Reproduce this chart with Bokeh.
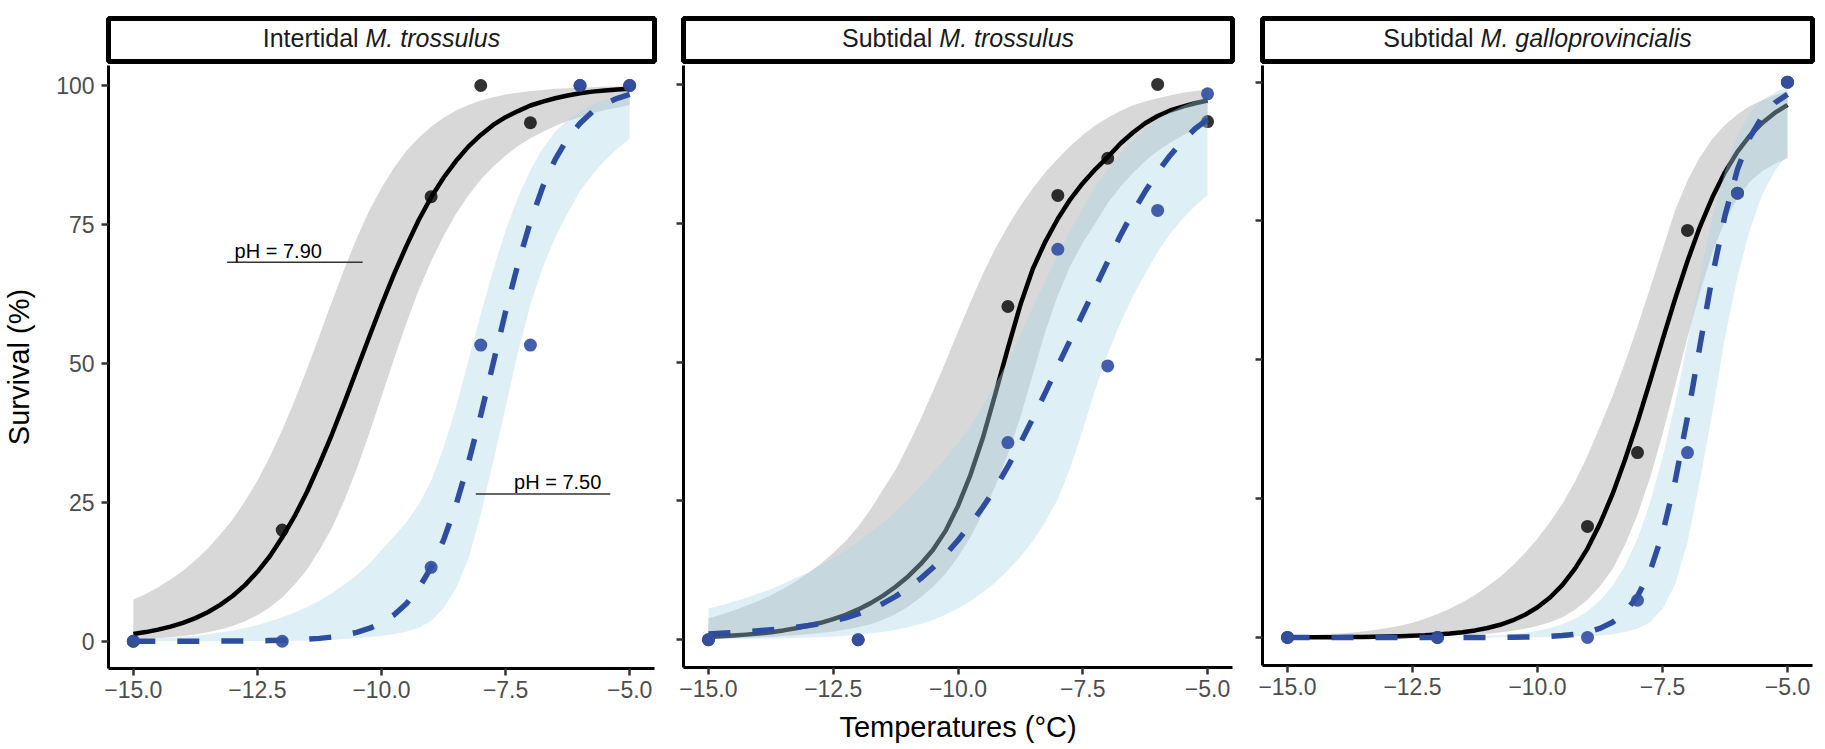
from bokeh.plotting import figure
from bokeh.layouts import row, column
from bokeh.models import Range1d, FixedTicker
from bokeh.embed import file_html
from bokeh.resources import INLINE
from bokeh.core.properties import value

# ---------------- data ----------------
temp_grid = [-15.0, -14.75, -14.5, -14.25, -14.0, -13.75, -13.5, -13.25, -13.0, -12.75,
             -12.5, -12.25, -12.0, -11.75, -11.5, -11.25, -11.0, -10.75, -10.5, -10.25,
             -10.0, -9.75, -9.5, -9.25, -9.0, -8.75, -8.5, -8.25, -8.0, -7.75,
             -7.5, -7.25, -7.0, -6.75, -6.5, -6.25, -6.0, -5.75, -5.5, -5.25, -5.0]
obs_temps = [-15, -12, -9, -8, -7, -6, -5]

x_ticks = [-15.0, -12.5, -10.0, -7.5, -5.0]
x_tick_labels = ["−15.0", "−12.5", "−10.0", "−7.5", "−5.0"]
y_ticks = [0, 25, 50, 75, 100]
y_tick_labels = ["0", "25", "50", "75", "100"]

panel_habitat = ["Intertidal", "Subtidal", "Subtidal"]
panel_species = ["M. trossulus", "M. trossulus", "M. galloprovincialis"]

# Panel 1: Intertidal M. trossulus (pH 7.90 = black/grey, pH 7.50 = blue)
p1_fit_790 = [1.31, 1.65, 2.09, 2.63, 3.32, 4.17, 5.22, 6.54, 8.15, 10.1, 12.5, 15.3, 18.7, 22.5, 26.9, 31.9, 37.2, 42.9, 48.8, 54.7,
              60.5, 66.0, 71.1, 75.8, 79.9, 83.4, 86.4, 89.0, 91.1, 92.9, 94.3, 95.4, 96.4, 97.1, 97.7, 98.2, 98.6, 98.9, 99.1, 99.3, 99.4]
p1_hi_790 = [7.5, 8.5, 9.7, 11.1, 12.7, 14.6, 16.7, 19.2, 21.9, 25.2, 28.9, 33.2, 38.0, 43.3, 49.0, 55.0, 61.1, 67.0, 72.5, 77.4,
             81.6, 85.2, 88.2, 90.6, 92.6, 94.2, 95.5, 96.5, 97.3, 97.9, 98.4, 98.7, 99.0, 99.2, 99.4, 99.5, 99.6, 99.7, 99.8, 99.8, 99.9]
p1_lo_790 = [0.32, 0.42, 0.54, 0.72, 0.94, 1.24, 1.61, 2.12, 2.76, 3.62, 4.70, 6.12, 7.87, 10.2, 12.9, 16.4, 20.4, 25.3, 31.0, 37.3,
             44.0, 50.7, 57.2, 63.2, 68.4, 72.9, 76.9, 80.2, 83.1, 85.4, 87.4, 89.1, 90.5, 91.7, 92.7, 93.6, 94.3, 95.0, 95.6, 96.0, 96.5]
p1_fit_750 = [0.0, 0.0, 0.0, 0.01, 0.01, 0.01, 0.02, 0.03, 0.04, 0.06, 0.08, 0.12, 0.17, 0.25, 0.36, 0.52, 0.76, 1.10, 1.59, 2.30,
              3.31, 4.74, 6.75, 9.53, 13.3, 18.2, 24.5, 32.1, 40.7, 50.0, 59.3, 67.9, 75.5, 81.8, 86.7, 90.5, 93.2, 95.3, 96.7, 97.7, 98.4]
p1_hi_750 = [0.30, 0.39, 0.50, 0.63, 0.80, 1.00, 1.26, 1.57, 1.94, 2.39, 2.93, 3.56, 4.31, 5.17, 6.18, 7.31, 8.63, 10.2, 11.9, 13.9,
             16.4, 18.8, 21.4, 24.6, 28.9, 34.8, 42.1, 50.5, 58.9, 66.8, 73.9, 79.9, 84.8, 88.7, 91.7, 93.8, 95.4, 96.5, 97.4, 98.1, 98.6]
p1_lo_750 = [0.0, 0.0, 0.0, 0.0, 0.0, 0.0, 0.01, 0.01, 0.02, 0.03, 0.04, 0.06, 0.08, 0.11, 0.15, 0.21, 0.29, 0.40, 0.55, 0.74,
             1.0, 1.3, 1.7, 2.41, 3.63, 5.95, 9.5, 14.8, 22.8, 32.3, 42.1, 52.0, 60.6, 67.3, 72.7, 77.0, 81.0, 84.0, 86.5, 88.6, 90.4]
p1_obs_790 = [0, 20, 80, 100, 93.3, 100, 100]
p1_obs_750 = [0, 0, 13.3, 53.3, 53.3, 100, 100]

# Panel 2: Subtidal M. trossulus
p2_fit_790 = [0.50, 0.62, 0.75, 0.92, 1.12, 1.36, 1.68, 2.06, 2.53, 3.05, 3.70, 4.47, 5.46, 6.59, 7.94, 9.54, 11.4, 13.6, 16.2, 19.6,
              24.1, 29.7, 36.4, 44.3, 52.5, 60.3, 66.8, 71.7, 75.8, 79.3, 82.2, 84.7, 86.9, 89.3, 91.3, 93.0, 94.3, 95.3, 96.0, 96.6, 97.1]
p2_hi_790 = [3.88, 4.52, 5.27, 6.07, 6.98, 8.02, 9.20, 10.5, 12.0, 13.7, 15.6, 17.8, 20.4, 23.5, 27.1, 30.6, 35.0, 39.7, 44.8, 50.0,
             55.5, 60.8, 65.9, 70.5, 74.5, 78.1, 81.3, 84.2, 86.6, 88.9, 90.9, 92.6, 94.0, 95.2, 96.2, 96.9, 97.5, 98.0, 98.5, 98.8, 99.1]
p2_lo_790 = [0.20, 0.25, 0.30, 0.37, 0.45, 0.55, 0.67, 0.82, 1.00, 1.21, 1.49, 1.83, 2.25, 2.79, 3.62, 4.65, 5.95, 7.59, 9.54, 11.9,
             14.9, 18.5, 22.8, 27.7, 33.4, 40.1, 47.8, 55.5, 62.0, 67.3, 71.5, 75.0, 78.6, 81.5, 84.0, 86.2, 88.0, 89.5, 90.8, 91.9, 92.9]
p2_fit_750 = [1.05, 1.17, 1.30, 1.45, 1.61, 1.80, 2.00, 2.25, 2.56, 2.93, 3.39, 3.95, 4.65, 5.52, 6.54, 7.80, 9.28, 11.0, 13.0, 15.3,
              17.9, 20.8, 23.9, 27.3, 31.2, 35.4, 39.9, 44.5, 49.3, 54.0, 58.7, 63.4, 68.1, 72.7, 76.9, 80.7, 84.2, 87.2, 89.8, 92.0, 93.7]
p2_hi_750 = [5.63, 6.18, 6.85, 7.52, 8.32, 9.11, 10.1, 11.1, 12.1, 13.4, 14.7, 16.1, 17.6, 19.3, 21.1, 23.1, 25.3, 27.7, 30.1, 32.7,
             35.4, 38.5, 42.1, 46.0, 50.2, 55.0, 59.9, 64.6, 69.2, 73.7, 77.7, 81.5, 84.7, 87.5, 89.9, 92.0, 93.7, 95.0, 96.1, 97.0, 97.7]
p2_lo_750 = [0.10, 0.12, 0.14, 0.16, 0.19, 0.22, 0.26, 0.31, 0.38, 0.46, 0.57, 0.71, 0.89, 1.12, 1.41, 1.76, 2.23, 2.82, 3.56, 4.48,
             5.62, 6.98, 8.55, 10.3, 12.5, 14.9, 17.8, 21.2, 25.3, 31.0, 37.8, 45.0, 51.5, 57.0, 61.8, 65.9, 69.8, 73.1, 75.8, 78.1, 80.1]
p2_obs_790 = [0, 0, 60, 80, 86.7, 100, 93.3]
p2_obs_750 = [0, 0, 35.5, 70.3, 49.3, 77.3, 98.3]

# Panel 3: Subtidal M. galloprovincialis
p3_fit_790 = [0.01, 0.02, 0.03, 0.04, 0.05, 0.06, 0.09, 0.12, 0.16, 0.21, 0.29, 0.38, 0.52, 0.70, 0.94, 1.27, 1.70, 2.28, 3.06, 4.08,
              5.44, 7.20, 9.48, 12.4, 16.0, 20.5, 25.8, 32.0, 38.8, 46.1, 53.6, 60.9, 67.8, 74.0, 79.3, 83.8, 87.5, 90.4, 92.7, 94.5, 95.9]
p3_hi_790 = [0.30, 0.37, 0.46, 0.57, 0.70, 0.87, 1.09, 1.35, 1.69, 2.13, 2.66, 3.35, 4.23, 5.22, 6.36, 7.65, 9.20, 10.9, 12.9, 15.2,
             17.8, 20.8, 24.1, 28.1, 32.7, 38.0, 43.5, 49.5, 56.0, 62.9, 69.8, 76.9, 82.3, 86.5, 89.8, 92.3, 94.2, 95.7, 96.8, 97.7, 98.4]
p3_lo_790 = [0.01, 0.01, 0.02, 0.02, 0.03, 0.04, 0.05, 0.06, 0.08, 0.10, 0.14, 0.18, 0.23, 0.30, 0.40, 0.52, 0.68, 0.90, 1.19, 1.57,
             2.06, 2.74, 3.66, 4.97, 6.79, 9.20, 12.3, 16.7, 22.1, 28.7, 36.6, 45.3, 54.0, 62.2, 69.4, 75.0, 79.1, 82.1, 84.0, 85.3, 86.3]
p3_fit_750 = [0, 0, 0, 0, 0, 0, 0, 0, 0, 0, 0, 0.001, 0.002, 0.003, 0.005, 0.009, 0.015, 0.025, 0.042, 0.071,
              0.12, 0.20, 0.34, 0.58, 0.98, 1.63, 2.74, 4.52, 7.44, 11.9, 18.7, 28.0, 39.7, 52.6, 65.2, 76.0, 84.3, 90.1, 93.9, 96.3, 97.8]
p3_hi_750 = [0, 0, 0, 0, 0.01, 0.01, 0.01, 0.02, 0.02, 0.03, 0.04, 0.05, 0.07, 0.10, 0.14, 0.20, 0.29, 0.42, 0.60, 0.86,
             1.21, 1.71, 2.41, 3.39, 4.74, 6.66, 9.28, 12.9, 17.8, 24.2, 32.3, 42.1, 53.2, 65.0, 75.8, 84.0, 90.5, 94.5, 96.8, 98.2, 99.2]
p3_lo_750 = [0, 0, 0, 0, 0, 0, 0, 0, 0, 0, 0, 0, 0, 0.002, 0.003, 0.005, 0.01, 0.015, 0.02, 0.025,
             0.03, 0.05, 0.08, 0.13, 0.22, 0.37, 0.60, 0.99, 1.63, 2.74, 5.12, 9.5, 17.1, 28.3, 40.6, 54.0, 65.0, 73.5, 79.9, 84.0, 87.0]
p3_obs_790 = [0, 0, 20, 33.3, 73.3, 80, 100]
p3_obs_750 = [0, 0, 0, 6.7, 33.3, 80, 100]

# pH annotations (panel 1)
ph_labels = ["pH = 7.90", "pH = 7.50"]
ph_label_x = [-12.08, -6.45]
ph_label_y = [70.3, 28.6]
ph_line_x0 = [-13.11, -8.10]
ph_line_x1 = [-10.38, -5.39]
ph_line_y = [68.2, 26.5]

# ---------------- styling / layout ----------------
FONT = "Liberation Sans"
GREY_FILL = "#BEBEBE"
BLUE_FILL = "#ADD8E6"
BLUE_LINE = "#2F4D9F"
BLUE_PT = "#3450A4"

series = [
    (p1_fit_790, p1_hi_790, p1_lo_790, p1_fit_750, p1_hi_750, p1_lo_750, p1_obs_790, p1_obs_750),
    (p2_fit_790, p2_hi_790, p2_lo_790, p2_fit_750, p2_hi_750, p2_lo_750, p2_obs_790, p2_obs_750),
    (p3_fit_790, p3_hi_790, p3_lo_790, p3_fit_750, p3_hi_750, p3_lo_750, p3_obs_790, p3_obs_750),
]

geom = [
    dict(w=670, mbl=104, mbr=7, ylo=-4.9, yhi=103.6, mbb=81, smbl=106, smbr=16, off_n=-22.9, off_i=-16.0),
    dict(w=578, mbl=11, mbr=8, ylo=-5.0, yhi=103.4, mbb=82, smbl=13, smbr=16, off_n=-25.7, off_i=-18.7),
    dict(w=577, mbl=13, mbr=5, ylo=-5.05, yhi=103.0, mbb=84, smbl=14, smbr=13, off_n=-63.9, off_i=-56.9),
]


def key(v):
    return int(v) if float(v).is_integer() else v


def make_strip(i, g):
    s = figure(width=g["w"], height=64, x_range=Range1d(0, 1), y_range=Range1d(0, 1),
               x_axis_type=None, y_axis_type=None, output_backend="svg", toolbar_location=None,
               min_border=0, min_border_left=g["smbl"], min_border_right=g["smbr"],
               min_border_top=18, min_border_bottom=3)
    s.grid.visible = False
    s.outline_line_color = "black"
    s.outline_line_width = 5
    s.background_fill_color = "white"
    s.border_fill_color = "white"
    s.text(x=[0.5], y=[0.5], text=[panel_habitat[i]], text_align="right", text_baseline="middle",
           x_offset=g["off_n"], y_offset=-2, text_font=value(FONT), text_font_size="25px",
           text_color="#1A1A1A")
    s.text(x=[0.5], y=[0.5], text=[panel_species[i]], text_align="left", text_baseline="middle",
           x_offset=g["off_i"], y_offset=-2, text_font=value(FONT), text_font_size="25px",
           text_font_style="italic", text_color="#1A1A1A")
    return s


def make_panel(i, g):
    fit7, hi7, lo7, fit5, hi5, lo5, obs7, obs5 = series[i]
    p = figure(width=g["w"], height=685, x_range=Range1d(-15.5, -4.5), y_range=Range1d(g["ylo"], g["yhi"]),
               output_backend="svg", toolbar_location=None, min_border=0,
               min_border_left=g["mbl"], min_border_right=g["mbr"], min_border_top=1,
               min_border_bottom=g["mbb"])
    p.grid.visible = False
    p.outline_line_color = None
    p.background_fill_color = "white"
    p.border_fill_color = "white"

    p.varea(x=temp_grid, y1=lo7, y2=hi7, fill_color=GREY_FILL, fill_alpha=0.6)
    p.line(temp_grid, fit7, line_color="black", line_width=4.5, line_join="round")
    p.scatter(obs_temps, obs7, size=13, fill_color="black", line_color=None, fill_alpha=0.8)
    p.varea(x=temp_grid, y1=lo5, y2=hi5, fill_color=BLUE_FILL, fill_alpha=0.4)
    p.line(temp_grid, fit5, line_color=BLUE_LINE, line_width=5.5, line_dash="22 22", line_join="round")
    p.scatter(obs_temps, obs5, size=13, fill_color=BLUE_PT, line_color=None, fill_alpha=0.92)

    if i == 0:
        p.segment(x0=ph_line_x0, y0=ph_line_y, x1=ph_line_x1, y1=ph_line_y,
                  line_color="#333333", line_width=1.3)
        p.text(x=ph_label_x, y=ph_label_y, text=ph_labels, text_align="center",
               text_baseline="middle", text_font=value(FONT), text_font_size="20px",
               text_color="black")

    xa = p.xaxis[0]
    ya = p.yaxis[0]
    xa.ticker = FixedTicker(ticks=x_ticks)
    xa.major_label_overrides = {key(v): t for v, t in zip(x_ticks, x_tick_labels)}
    ya.ticker = FixedTicker(ticks=y_ticks)
    if i == 0:
        ya.major_label_overrides = {key(v): t for v, t in zip(y_ticks, y_tick_labels)}
        ya.axis_label = "Survival (%)"
        ya.major_label_standoff = 7
    else:
        ya.major_label_overrides = {key(v): "" for v in y_ticks}
        ya.major_label_standoff = 0
    if i == 1:
        xa.axis_label = "Temperatures (°C)"
    xa.major_label_standoff = 5

    for ax in (xa, ya):
        ax.axis_line_color = "black"
        ax.axis_line_width = 3
        ax.major_tick_line_color = "#333333"
        ax.major_tick_line_width = 2.5
        ax.major_tick_out = 7
        ax.major_tick_in = 0
        ax.minor_tick_line_color = None
        ax.major_label_text_font = FONT
        ax.major_label_text_font_size = "23px"
        ax.major_label_text_color = "#4D4D4D"
        ax.axis_label_text_font = FONT
        ax.axis_label_text_font_style = "normal"
        ax.axis_label_text_color = "black"
        ax.axis_label_text_font_size = "29px"
    ya.axis_label_standoff = 18
    xa.axis_label_standoff = 11
    return p


cols = []
for i, g in enumerate(geom):
    cols.append(column(make_strip(i, g), make_panel(i, g), spacing=0))

layout = row(*cols, spacing=0)

open("out.html", "w").write(file_html(layout, INLINE))
